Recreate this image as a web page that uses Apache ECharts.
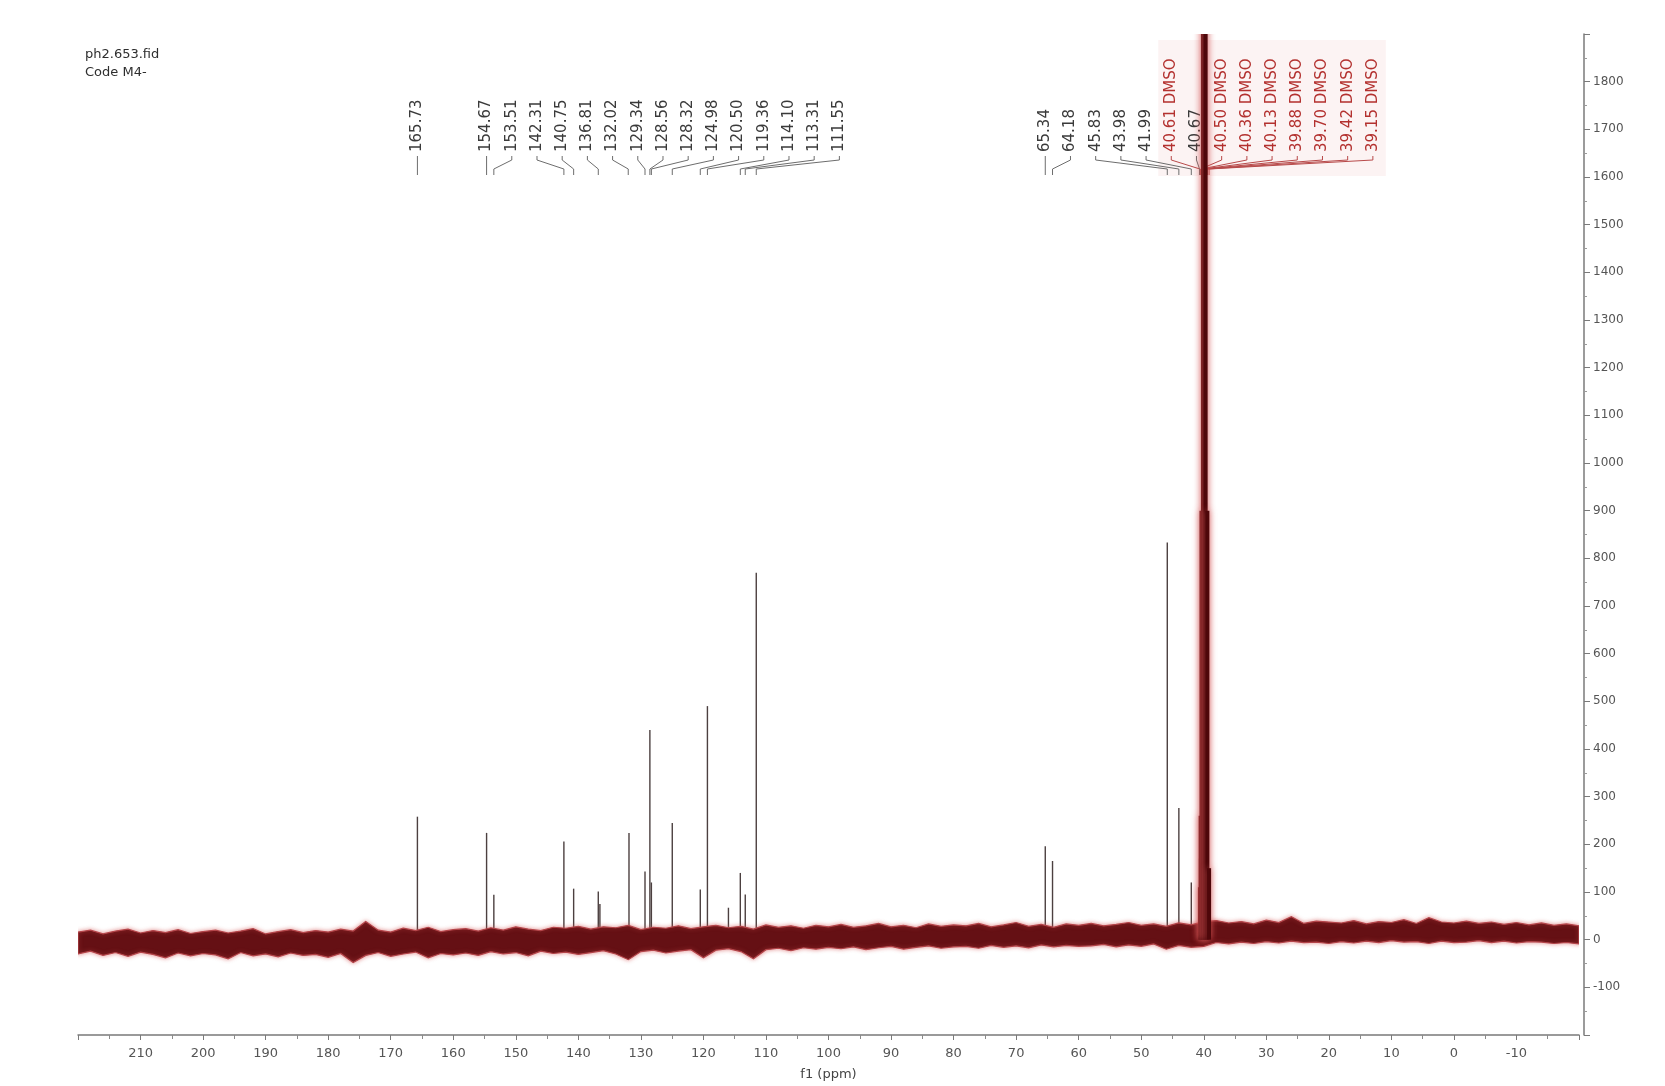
<!DOCTYPE html>
<html>
<head>
<meta charset="utf-8">
<title>ph2.653.fid</title>
<script src="https://cdn.jsdelivr.net/npm/echarts@6/dist/echarts.min.js"></script>
<style>
  html, body { margin: 0; padding: 0; background: #fff; }
  #chart { width: 1665px; height: 1086px; }
</style>
</head>
<body>
<div id="chart"></div>
<script>
// == Data ====================================================================

// peak lines (ppm, intensity)
const peakShift  = [165.73, 154.67, 153.51, 142.31, 140.75, 136.81, 136.55, 131.90, 129.34, 128.56, 128.32,
                    124.98, 120.50, 119.36, 116.00, 114.10, 113.31, 111.55, 65.34, 64.18, 45.83, 43.98, 41.99, 40.67]
const peakHeight = [258, 224, 94, 206, 107, 101, 75, 224, 143, 440, 120,
                    245, 105, 490, 67, 140, 95, 770, 196, 165, 833, 276, 120, 170]

// solvent multiplet (DMSO-d6), runs off the top of the plot
const dmsoShift  = [40.61, 40.50, 40.36, 40.13, 39.88, 39.70, 39.42, 39.15]
const dmsoHeight = [110, 260, 900, 2600, 3200, 2600, 900, 150]

// baseline noise envelope, sampled every 2 ppm from 220 down to -20
const noiseStart = 220
const noiseStep = 2
const noiseUpper = [
  16, 20, 12, 18, 22, 14, 19, 15, 21, 13, 17,
  20, 14, 18, 23, 12, 17, 21, 15, 19, 16,
  22, 18, 38, 20, 16, 24, 19, 26, 17, 21,
  23, 18, 25, 20, 27, 22, 19, 26, 24, 28,
  22, 27, 25, 30, 21, 26, 24, 29, 23, 27,
  30, 25, 28, 22, 31, 26, 29, 24, 30, 27,
  32, 26, 29, 34, 27, 30, 25, 33, 28, 31,
  29, 34, 27, 31, 36, 28, 32, 26, 33, 30,
  34, 29, 32, 36, 30, 33, 28, 35, 31, 38,
  40, 35, 38, 33, 41, 36, 48, 34, 39, 37,
  35, 40, 33, 38, 36, 42, 34, 46, 37, 35,
  39, 34, 37, 32, 36, 31, 35, 30, 33, 29
]
const noiseLower = [
  -30, -24, -33, -27, -35, -26, -31, -38, -28, -34, -29,
  -32, -40, -27, -34, -30, -36, -28, -33, -31, -37,
  -29, -48, -33, -27, -35, -30, -26, -38, -29, -32,
  -28, -33, -25, -30, -27, -34, -24, -29, -26, -31,
  -27, -23, -30, -42, -25, -22, -28, -24, -21, -38,
  -22, -19, -25, -40, -21, -18, -23, -17, -20, -16,
  -19, -15, -21, -17, -14, -20, -16, -13, -18, -15,
  -14, -18, -12, -16, -13, -17, -11, -15, -12, -14,
  -13, -10, -15, -11, -14, -9, -20, -12, -16, -14,
  -6, -9, -5, -8, -4, -7, -3, -6, -5, -8,
  -4, -7, -3, -6, -2, -5, -4, -8, -3, -6,
  -5, -2, -6, -3, -7, -4, -5, -8, -6, -9
]

// peak picking labels, in three fanned groups
const labelsA = ['165.73']
const labelsB = ['154.67', '153.51', '142.31', '140.75', '136.81', '132.02', '129.34', '128.56',
                 '128.32', '124.98', '120.50', '119.36', '114.10', '113.31', '111.55']
const labelsC = ['65.34', '64.18', '45.83', '43.98', '41.99', '40.61 DMSO', '40.67', '40.50 DMSO',
                 '40.36 DMSO', '40.13 DMSO', '39.88 DMSO', '39.70 DMSO', '39.42 DMSO', '39.15 DMSO']

// == Layout helpers ==========================================================

const LABEL_GAP = 25.2
const LABEL_BASE = 152
const FONT = '"DejaVu Sans", Verdana, sans-serif'

const labelRows = []
;[labelsA, labelsB, labelsC].forEach(function (group) {
  group.forEach(function (t, k) {
    labelRows.push({
      text: t,
      shift: parseFloat(t),
      first: parseFloat(group[0]),
      slot: k,
      dmso: t.indexOf('DMSO') > 0
    })
  })
})

const noiseShift = noiseUpper.map(function (_, i) { return noiseStart - i * noiseStep })

// == Chart ===================================================================

const myChart = echarts.init(document.getElementById('chart'))

const option = {
  animation: false,
  backgroundColor: '#fff',
  title: {
    text: 'ph2.653.fid\nCode M4-',
    left: 80,
    top: 41,
    textStyle: { fontFamily: FONT, fontSize: 13, fontWeight: 'normal', color: '#2e2e2e', lineHeight: 18 }
  },
  grid: { left: 78, right: 86, top: 34, bottom: 47 },
  xAxis: {
    type: 'value',
    min: -20,
    max: 220,
    interval: 10,
    inverse: true,
    name: 'f1 (ppm)',
    nameLocation: 'middle',
    nameGap: 33,
    nameTextStyle: { fontFamily: FONT, fontSize: 13, color: '#444' },
    axisLine: { onZero: false, lineStyle: { color: '#7a7a7a', width: 1.5 } },
    axisTick: { length: 5, lineStyle: { color: '#7a7a7a' } },
    minorTick: { show: true, splitNumber: 2, length: 4, lineStyle: { color: '#8a8a8a' } },
    axisLabel: {
      margin: 12, color: '#555', fontSize: 13, fontFamily: FONT,
      showMinLabel: false, showMaxLabel: false
    },
    splitLine: { show: false }
  },
  yAxis: {
    type: 'value',
    position: 'right',
    offset: 5,
    min: -200,
    max: 1900,
    interval: 100,
    axisLine: { show: true, onZero: false, lineStyle: { color: '#7a7a7a', width: 1.5 } },
    axisTick: { show: true, length: 6, lineStyle: { color: '#7a7a7a' } },
    minorTick: { show: true, splitNumber: 2, length: 3, lineStyle: { color: '#9a9a9a' } },
    axisLabel: {
      margin: 9, color: '#555', fontSize: 12, fontFamily: FONT,
      formatter: function (v) { return (v === -200 || v === 1900) ? '' : String(v) }
    },
    splitLine: { show: false }
  },
  series: [
    {
      // faint highlight behind the solvent labels
      type: 'custom',
      silent: true,
      z: 1,
      data: [[40, 0]],
      renderItem: function (params, api) {
        const rows = labelRows.filter(function (r) { return r.dmso })
        const a = rows[0], b = rows[rows.length - 1]
        const x1 = api.coord([a.first, 0])[0] + a.slot * LABEL_GAP - 13
        const x2 = api.coord([b.first, 0])[0] + b.slot * LABEL_GAP + 13
        return {
          type: 'rect',
          shape: { x: x1, y: 40, width: x2 - x1, height: LABEL_BASE + 24 - 40 },
          style: { fill: 'rgba(235,160,160,0.13)' }
        }
      }
    },
    {
      type: 'custom',
      clip: true,
      z: 2,
      data: peakShift.map(function (s, i) { return [s, peakHeight[i]] }),
      renderItem: function (params, api) {
        const base = api.coord([api.value(0), 0])
        const top = api.coord([api.value(0), api.value(1)])
        return {
          type: 'line',
          shape: { x1: base[0], y1: base[1], x2: top[0], y2: top[1] },
          style: { stroke: '#4c4040', lineWidth: 1.4 }
        }
      }
    },
    {
      // baseline noise band
      type: 'custom',
      clip: true,
      z: 3,
      data: [[0, 0]],
      renderItem: function (params, api) {
        const pts = []
        for (let i = 0; i < noiseShift.length; i++) pts.push(api.coord([noiseShift[i], noiseUpper[i]]))
        for (let i = noiseShift.length - 1; i >= 0; i--) pts.push(api.coord([noiseShift[i], noiseLower[i]]))
        return {
          type: 'polygon',
          shape: { points: pts },
          style: {
            fill: '#651014', stroke: '#b4454a', lineWidth: 1.2,
            shadowBlur: 4, shadowColor: 'rgba(210,80,80,0.6)'
          }
        }
      }
    },
    {
      type: 'custom',
      clip: false,
      z: 4,
      data: labelRows.map(function (r) { return [r.shift, 0] }),
      renderItem: function (params, api) {
        const r = labelRows[params.dataIndex]
        const lx = api.coord([r.first, 0])[0] + r.slot * LABEL_GAP
        const px = api.coord([r.shift, 0])[0]
        const y = LABEL_BASE
        return {
          type: 'group',
          children: [
            {
              type: 'text',
              x: lx,
              y: y,
              rotation: Math.PI / 2,
              style: {
                text: r.text,
                fill: r.dmso ? '#b3312f' : '#3a3a3a',
                font: '15px ' + FONT,
                align: 'left',
                verticalAlign: 'middle'
              }
            },
            {
              type: 'polyline',
              shape: { points: [[lx, y + 4], [lx, y + 8], [px, y + 17], [px, y + 23]] },
              style: { stroke: r.dmso ? '#b84a4a' : '#6d6d6d', lineWidth: 1, fill: null }
            }
          ]
        }
      }
    },
    {
      type: 'custom',
      clip: true,
      z: 5,
      data: dmsoShift.map(function (s, i) { return [s, dmsoHeight[i]] }),
      renderItem: function (params, api) {
        const base = api.coord([api.value(0), 0])
        const top = api.coord([api.value(0), api.value(1)])
        return {
          type: 'line',
          shape: { x1: base[0], y1: base[1], x2: top[0], y2: top[1] },
          style: { stroke: '#4e070a', lineWidth: 4, shadowBlur: 7, shadowColor: 'rgba(215,90,90,0.7)' }
        }
      }
    }
  ]
}

myChart.setOption(option)
</script>
</body>
</html>
